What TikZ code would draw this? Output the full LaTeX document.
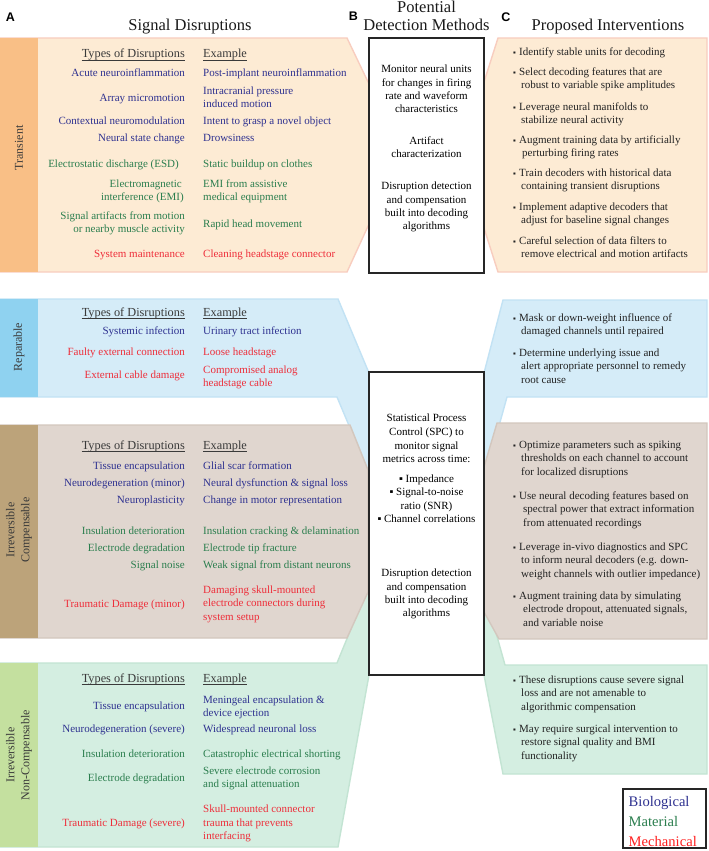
\documentclass[tikz,border=0pt]{standalone}
\usepackage{fontspec}
\setmainfont{Liberation Serif}
\newfontfamily\labfont{Liberation Sans}
\definecolor{bio}{HTML}{2E3190}
\definecolor{mat}{HTML}{2B7E4E}
\definecolor{mech}{HTML}{EE2E3A}
\definecolor{legred}{HTML}{FF1F1F}
\definecolor{hdc}{HTML}{3A3A3A}
\definecolor{rtc}{HTML}{222222}
\definecolor{ttc}{HTML}{1A1A1A}
\definecolor{stc}{HTML}{3A3A3A}
\definecolor{trF}{HTML}{FDEBD4}\definecolor{trD}{HTML}{F8CDBF}\definecolor{trS}{HTML}{F9BF86}
\definecolor{reF}{HTML}{D5ECF8}\definecolor{reD}{HTML}{C2E2F4}\definecolor{reS}{HTML}{8FD2F0}
\definecolor{coF}{HTML}{E0D6CF}\definecolor{coD}{HTML}{D3C7BE}\definecolor{coS}{HTML}{BCA37A}
\definecolor{ncF}{HTML}{D4EEE1}\definecolor{ncD}{HTML}{C3E4D3}\definecolor{ncS}{HTML}{C4E09F}
\tikzset{
  txt/.style={inner sep=0pt, font=\fontsize{11}{13.3}\selectfont},
  ty/.style={txt, anchor=base east},
  ex/.style={txt, anchor=base west},
  hdl/.style={inner sep=0pt, font=\fontsize{12.3}{14}\selectfont, text=hdc, anchor=base east},
  hdr/.style={inner sep=0pt, font=\fontsize{12.3}{14}\selectfont, text=hdc, anchor=base west},
  mtx/.style={txt, anchor=base},
  rb/.style={txt, anchor=base west, text=rtc},
  bul/.style={inner sep=0pt, anchor=base west, text=rtc, font=\fontsize{8}{9}\selectfont},
  ttl/.style={inner sep=0pt, font=\fontsize{16.5}{18}\selectfont, anchor=base, text=ttc},
  letter/.style={inner sep=0pt, font=\labfont\bfseries\fontsize{12.5}{14}\selectfont},
  striptext/.style={inner sep=0pt, rotate=90, align=center, font=\fontsize{12}{15}\selectfont, text=stc},
  ul/.style={line width=0.6pt, draw=hdc},
  boxB/.style={draw=black!85, line width=1.2pt, fill=white},
  panel/.style={line width=1.4pt, line join=miter},
  leg/.style={inner sep=0pt, anchor=base west, font=\fontsize{14.6}{16}\selectfont},
}
\begin{document}
\begin{tikzpicture}[x=1pt,y=-1pt]
\useasboundingbox (0,0) rectangle (709,851);
\fill[white] (0,0) rectangle (709,851);

% ---------- panels ----------
% reparable
\filldraw[panel, fill=reF, draw=reD] (0,299) -- (338,299) -- (369,373) -- (369,473) -- (337,397) -- (0,397) -- cycle;
\filldraw[panel, fill=reF, draw=reD] (707,300) -- (503,300) -- (484,373) -- (484,480) -- (507,397) -- (707,397) -- cycle;
% non-compensable
\filldraw[panel, fill=ncF, draw=ncD] (0,663) -- (337,663) -- (369,585) -- (369,675) -- (338,847) -- (0,847) -- cycle;
\filldraw[panel, fill=ncF, draw=ncD] (707,665) -- (505,665) -- (484,590) -- (484,675) -- (503,774) -- (707,774) -- cycle;
% compensable
\filldraw[panel, fill=coF, draw=coD] (0,425) -- (350,425) -- (368,470) -- (368,592) -- (347,638) -- (0,638) -- cycle;
\filldraw[panel, fill=coF, draw=coD] (707,423) -- (497,423) -- (484,467) -- (484,612) -- (499,639) -- (707,639) -- cycle;
% transient
\filldraw[panel, fill=trF, draw=trD] (0,38) -- (347,38) -- (369,84) -- (369,224) -- (347,272) -- (0,272) -- cycle;
\filldraw[panel, fill=trF, draw=trD] (707,38) -- (498,38) -- (484,82) -- (484,228) -- (498,272) -- (707,272) -- cycle;
% strips
\fill[trS] (0,38) rectangle (38,272);
\fill[reS] (0,299) rectangle (38,397);
\fill[coS] (0,425) rectangle (38,638);
\fill[ncS] (0,663) rectangle (38,847);

% ---------- middle boxes ----------
\draw[boxB] (369,38) rectangle (484,273);
\draw[boxB] (369,372) rectangle (484,675);

% ---------- titles ----------
\node[letter] (lA) at (10.5,17) {A};
\node[letter] (lB) at (353.5,16.5) {B};
\node[letter] (lC) at (506,17.5) {C};
\node[ttl] (tA) at (190,31) {Signal Disruptions};
\node[ttl] (tB1) at (426.5,12.5) {Potential};
\node[ttl] (tB2) at (426.5,31) {Detection Methods};
\node[ttl] (tC) at (608,31) {Proposed Interventions};

% ---------- strip labels ----------
\node[striptext] (s1) at (19,148) {Transient};
\node[striptext] (s2) at (19,347) {Reparable};
\node[striptext] (s3) at (19,530) {Irreversible\\Compensable};
\node[striptext] (s4) at (19,755) {Irreversible\\Non-Compensable};

% ---------- Transient (A) ----------
\node[hdl] (h1a) at (185,58) {Types of Disruptions};
\node[hdr] (h1b) at (203,58) {Example};
\draw[ul] ([yshift=-2pt]h1a.base west) -- ([yshift=-2pt]h1a.base east);
\draw[ul] ([yshift=-2pt]h1b.base west) -- ([yshift=-2pt]h1b.base east);
\node[ty,text=bio] (a11) at (185,76.5) {Acute neuroinflammation};
\node[ex,text=bio] (b11) at (203,76.5) {Post-implant neuroinflammation};
\node[ty,text=bio] (a12) at (185,101.5) {Array micromotion};
\node[ex,text=bio] (b12a) at (203,94.5) {Intracranial pressure};
\node[ex,text=bio] (b12b) at (203,107.5) {induced motion};
\node[ty,text=bio] (a13) at (185,124.5) {Contextual neuromodulation};
\node[ex,text=bio] (b13) at (203,124.5) {Intent to grasp a novel object};
\node[ty,text=bio] (a14) at (185,141.5) {Neural state change};
\node[ex,text=bio] (b14) at (203,141.5) {Drowsiness};
\node[ty,text=mat] (a15) at (179,167.5) {Electrostatic discharge (ESD)};
\node[ex,text=mat] (b15) at (203,167.5) {Static buildup on clothes};
\node[ty,text=mat] (a16a) at (182,187) {Electromagnetic};
\node[ty,text=mat] (a16b) at (184,200) {interference (EMI)};
\node[ex,text=mat] (b16a) at (203,187) {EMI from assistive};
\node[ex,text=mat] (b16b) at (203,200) {medical equipment};
\node[ty,text=mat] (a17a) at (185,219.5) {Signal artifacts from motion};
\node[ty,text=mat] (a17b) at (185,232.5) {or nearby muscle activity};
\node[ex,text=mat] (b17) at (203,227.5) {Rapid head movement};
\node[ty,text=mech] (a18) at (185,257.5) {System maintenance};
\node[ex,text=mech] (b18) at (203,257.5) {Cleaning headstage connector};

% ---------- Reparable (A) ----------
\node[hdl] (h2a) at (185,316) {Types of Disruptions};
\node[hdr] (h2b) at (203,316) {Example};
\draw[ul] ([yshift=-2pt]h2a.base west) -- ([yshift=-2pt]h2a.base east);
\draw[ul] ([yshift=-2pt]h2b.base west) -- ([yshift=-2pt]h2b.base east);
\node[ty,text=bio] (a21) at (185,334.5) {Systemic infection};
\node[ex,text=bio] (b21) at (203,334.5) {Urinary tract infection};
\node[ty,text=mech] (a22) at (185,355.5) {Faulty external connection};
\node[ex,text=mech] (b22) at (203,355.5) {Loose headstage};
\node[ty,text=mech] (a23) at (185,378.5) {External cable damage};
\node[ex,text=mech] (b23a) at (203,373) {Compromised analog};
\node[ex,text=mech] (b23b) at (203,386) {headstage cable};

% ---------- Irreversible Compensable (A) ----------
\node[hdl] (h3a) at (185,449) {Types of Disruptions};
\node[hdr] (h3b) at (203,449) {Example};
\draw[ul] ([yshift=-2pt]h3a.base west) -- ([yshift=-2pt]h3a.base east);
\draw[ul] ([yshift=-2pt]h3b.base west) -- ([yshift=-2pt]h3b.base east);
\node[ty,text=bio] (a31) at (185,469.5) {Tissue encapsulation};
\node[ex,text=bio] (b31) at (203,469.5) {Glial scar formation};
\node[ty,text=bio] (a32) at (185,486.5) {Neurodegeneration (minor)};
\node[ex,text=bio] (b32) at (203,486.5) {Neural dysfunction \& signal loss};
\node[ty,text=bio] (a33) at (185,503.5) {Neuroplasticity};
\node[ex,text=bio] (b33) at (203,503.5) {Change in motor representation};
\node[ty,text=mat] (a34) at (185,534.5) {Insulation deterioration};
\node[ex,text=mat] (b34) at (203,534.5) {Insulation cracking \& delamination};
\node[ty,text=mat] (a35) at (185,551.5) {Electrode degradation};
\node[ex,text=mat] (b35) at (203,551.5) {Electrode tip fracture};
\node[ty,text=mat] (a36) at (185,568.5) {Signal noise};
\node[ex,text=mat] (b36) at (203,568.5) {Weak signal from distant neurons};
\node[ty,text=mech] (a37) at (185,607.5) {Traumatic Damage (minor)};
\node[ex,text=mech] (b37a) at (203,593.5) {Damaging skull-mounted};
\node[ex,text=mech] (b37b) at (203,606.5) {electrode connectors during};
\node[ex,text=mech] (b37c) at (203,620) {system setup};

% ---------- Irreversible Non-Compensable (A) ----------
\node[hdl] (h4a) at (185,682.5) {Types of Disruptions};
\node[hdr] (h4b) at (203,682.5) {Example};
\draw[ul] ([yshift=-2pt]h4a.base west) -- ([yshift=-2pt]h4a.base east);
\draw[ul] ([yshift=-2pt]h4b.base west) -- ([yshift=-2pt]h4b.base east);
\node[ty,text=bio] (a41) at (185,709.5) {Tissue encapsulation};
\node[ex,text=bio] (b41a) at (203,703) {Meningeal encapsulation \&};
\node[ex,text=bio] (b41b) at (203,716) {device ejection};
\node[ty,text=bio] (a42) at (185,732.5) {Neurodegeneration (severe)};
\node[ex,text=bio] (b42) at (203,732.5) {Widespread neuronal loss};
\node[ty,text=mat] (a43) at (185,757.5) {Insulation deterioration};
\node[ex,text=mat] (b43) at (203,757.5) {Catastrophic electrical shorting};
\node[ty,text=mat] (a44) at (185,781.5) {Electrode degradation};
\node[ex,text=mat] (b44a) at (203,774.5) {Severe electrode corrosion};
\node[ex,text=mat] (b44b) at (203,787.5) {and signal attenuation};
\node[ty,text=mech] (a45) at (185,826.5) {Traumatic Damage (severe)};
\node[ex,text=mech] (b45a) at (203,812.5) {Skull-mounted connector};
\node[ex,text=mech] (b45b) at (203,826.5) {trauma that prevents};
\node[ex,text=mech] (b45c) at (203,839.5) {interfacing};

% ---------- Middle box 1 ----------
\node[mtx] (m1) at (426.5,72.5) {Monitor neural units};
\node[mtx] (m2) at (426.5,86) {for changes in firing};
\node[mtx] (m3) at (426.5,99.2) {rate and waveform};
\node[mtx] (m4) at (426.5,112.5) {characteristics};
\node[mtx] (m5) at (426.5,144.5) {Artifact};
\node[mtx] (m6) at (426.5,157.8) {characterization};
\node[mtx] (m7) at (426.5,189.5) {Disruption detection};
\node[mtx] (m8) at (426.5,203) {and compensation};
\node[mtx] (m9) at (426.5,216.3) {built into decoding};
\node[mtx] (m10) at (426.5,229.6) {algorithms};

% ---------- Middle box 2 ----------
\node[mtx] (n1) at (426.5,421.5) {Statistical Process};
\node[mtx] (n2) at (426.5,435.3) {Control (SPC) to};
\node[mtx] (n3) at (426.5,449) {monitor signal};
\node[mtx] (n4) at (426.5,462.5) {metrics across time:};
\node[mtx] (n5) at (426.5,482.5) {▪ Impedance};
\node[mtx] (n6) at (426.5,495.8) {▪ Signal-to-noise};
\node[mtx] (n7) at (426.5,509.3) {ratio (SNR)};
\node[mtx] (n8) at (426.5,522.6) {▪ Channel correlations};
\node[mtx] (n9) at (426.5,576.5) {Disruption detection};
\node[mtx] (n10) at (426.5,590) {and compensation};
\node[mtx] (n11) at (426.5,603.3) {built into decoding};
\node[mtx] (n12) at (426.5,616.6) {algorithms};

% ---------- Right column: transient ----------
\node[bul] (cb1) at (513,55.5) {▪};
\node[rb] (c1) at (519,55.5) {Identify stable units for decoding};
\node[bul] (cb2) at (513,75.5) {▪};
\node[rb] (c2a) at (519,75.5) {Select decoding features that are};
\node[rb] (c2b) at (521,88.8) {robust to variable spike amplitudes};
\node[bul] (cb3) at (513,110.5) {▪};
\node[rb] (c3a) at (519,110.5) {Leverage neural manifolds to};
\node[rb] (c3b) at (521,123.8) {stabilize neural activity};
\node[bul] (cb4) at (513,143.5) {▪};
\node[rb] (c4a) at (519,143.5) {Augment training data by artificially};
\node[rb] (c4b) at (522,156.8) {perturbing firing rates};
\node[bul] (cb5) at (513,176.5) {▪};
\node[rb] (c5a) at (519,176.5) {Train decoders with historical data};
\node[rb] (c5b) at (521,189.8) {containing transient disruptions};
\node[bul] (cb6) at (513,210.5) {▪};
\node[rb] (c6a) at (519,210.5) {Implement adaptive decoders that};
\node[rb] (c6b) at (521,223.8) {adjust for baseline signal changes};
\node[bul] (cb7) at (513,244.5) {▪};
\node[rb] (c7a) at (519,244.5) {Careful selection of data filters to};
\node[rb] (c7b) at (521,257.8) {remove electrical and motion artifacts};

% ---------- Right column: reparable ----------
\node[bul] (db1) at (513,321.5) {▪};
\node[rb] (d1a) at (519,321.5) {Mask or down-weight influence of};
\node[rb] (d1b) at (521,334.8) {damaged channels until repaired};
\node[bul] (db2) at (513,356.5) {▪};
\node[rb] (d2a) at (519,356.5) {Determine underlying issue and};
\node[rb] (d2b) at (521,369.8) {alert appropriate personnel to remedy};
\node[rb] (d2c) at (521,383.1) {root cause};

% ---------- Right column: compensable ----------
\node[bul] (eb1) at (513,448.5) {▪};
\node[rb] (e1a) at (519,448.5) {Optimize parameters such as spiking};
\node[rb] (e1b) at (521,461.8) {thresholds on each channel to account};
\node[rb] (e1c) at (521,475.1) {for localized disruptions};
\node[bul] (eb2) at (513,499.5) {▪};
\node[rb] (e2a) at (519,499.5) {Use neural decoding features based on};
\node[rb] (e2b) at (523,512.8) {spectral power that extract information};
\node[rb] (e2c) at (523,526.1) {from attenuated recordings};
\node[bul] (eb3) at (513,550.5) {▪};
\node[rb] (e3a) at (519,550.5) {Leverage in-vivo diagnostics and SPC};
\node[rb] (e3b) at (521,563.8) {to inform neural decoders (e.g. down-};
\node[rb] (e3c) at (521,577.1) {weight channels with outlier impedance)};
\node[bul] (eb4) at (513,599.5) {▪};
\node[rb] (e4a) at (519,599.5) {Augment training data by simulating};
\node[rb] (e4b) at (523,612.8) {electrode dropout, attenuated signals,};
\node[rb] (e4c) at (523,626.1) {and variable noise};

% ---------- Right column: non-compensable ----------
\node[bul] (fb1) at (513,683.5) {▪};
\node[rb] (f1a) at (519,683.5) {These disruptions cause severe signal};
\node[rb] (f1b) at (521,696.8) {loss and are not amenable to};
\node[rb] (f1c) at (521,710.1) {algorithmic compensation};
\node[bul] (fb2) at (513,732.5) {▪};
\node[rb] (f2a) at (519,732.5) {May require surgical intervention to};
\node[rb] (f2b) at (521,745.8) {restore signal quality and BMI};
\node[rb] (f2c) at (521,759.1) {functionality};

% ---------- Legend ----------
\draw[boxB] (623,789) rectangle (706,848);
\node[leg,text=bio] (g1) at (628.5,806) {Biological};
\node[leg,text=mat] (g2) at (628.5,826) {Material};
\node[leg,text=legred] (g3) at (628.5,846) {Mechanical};
\end{tikzpicture}
\end{document}
